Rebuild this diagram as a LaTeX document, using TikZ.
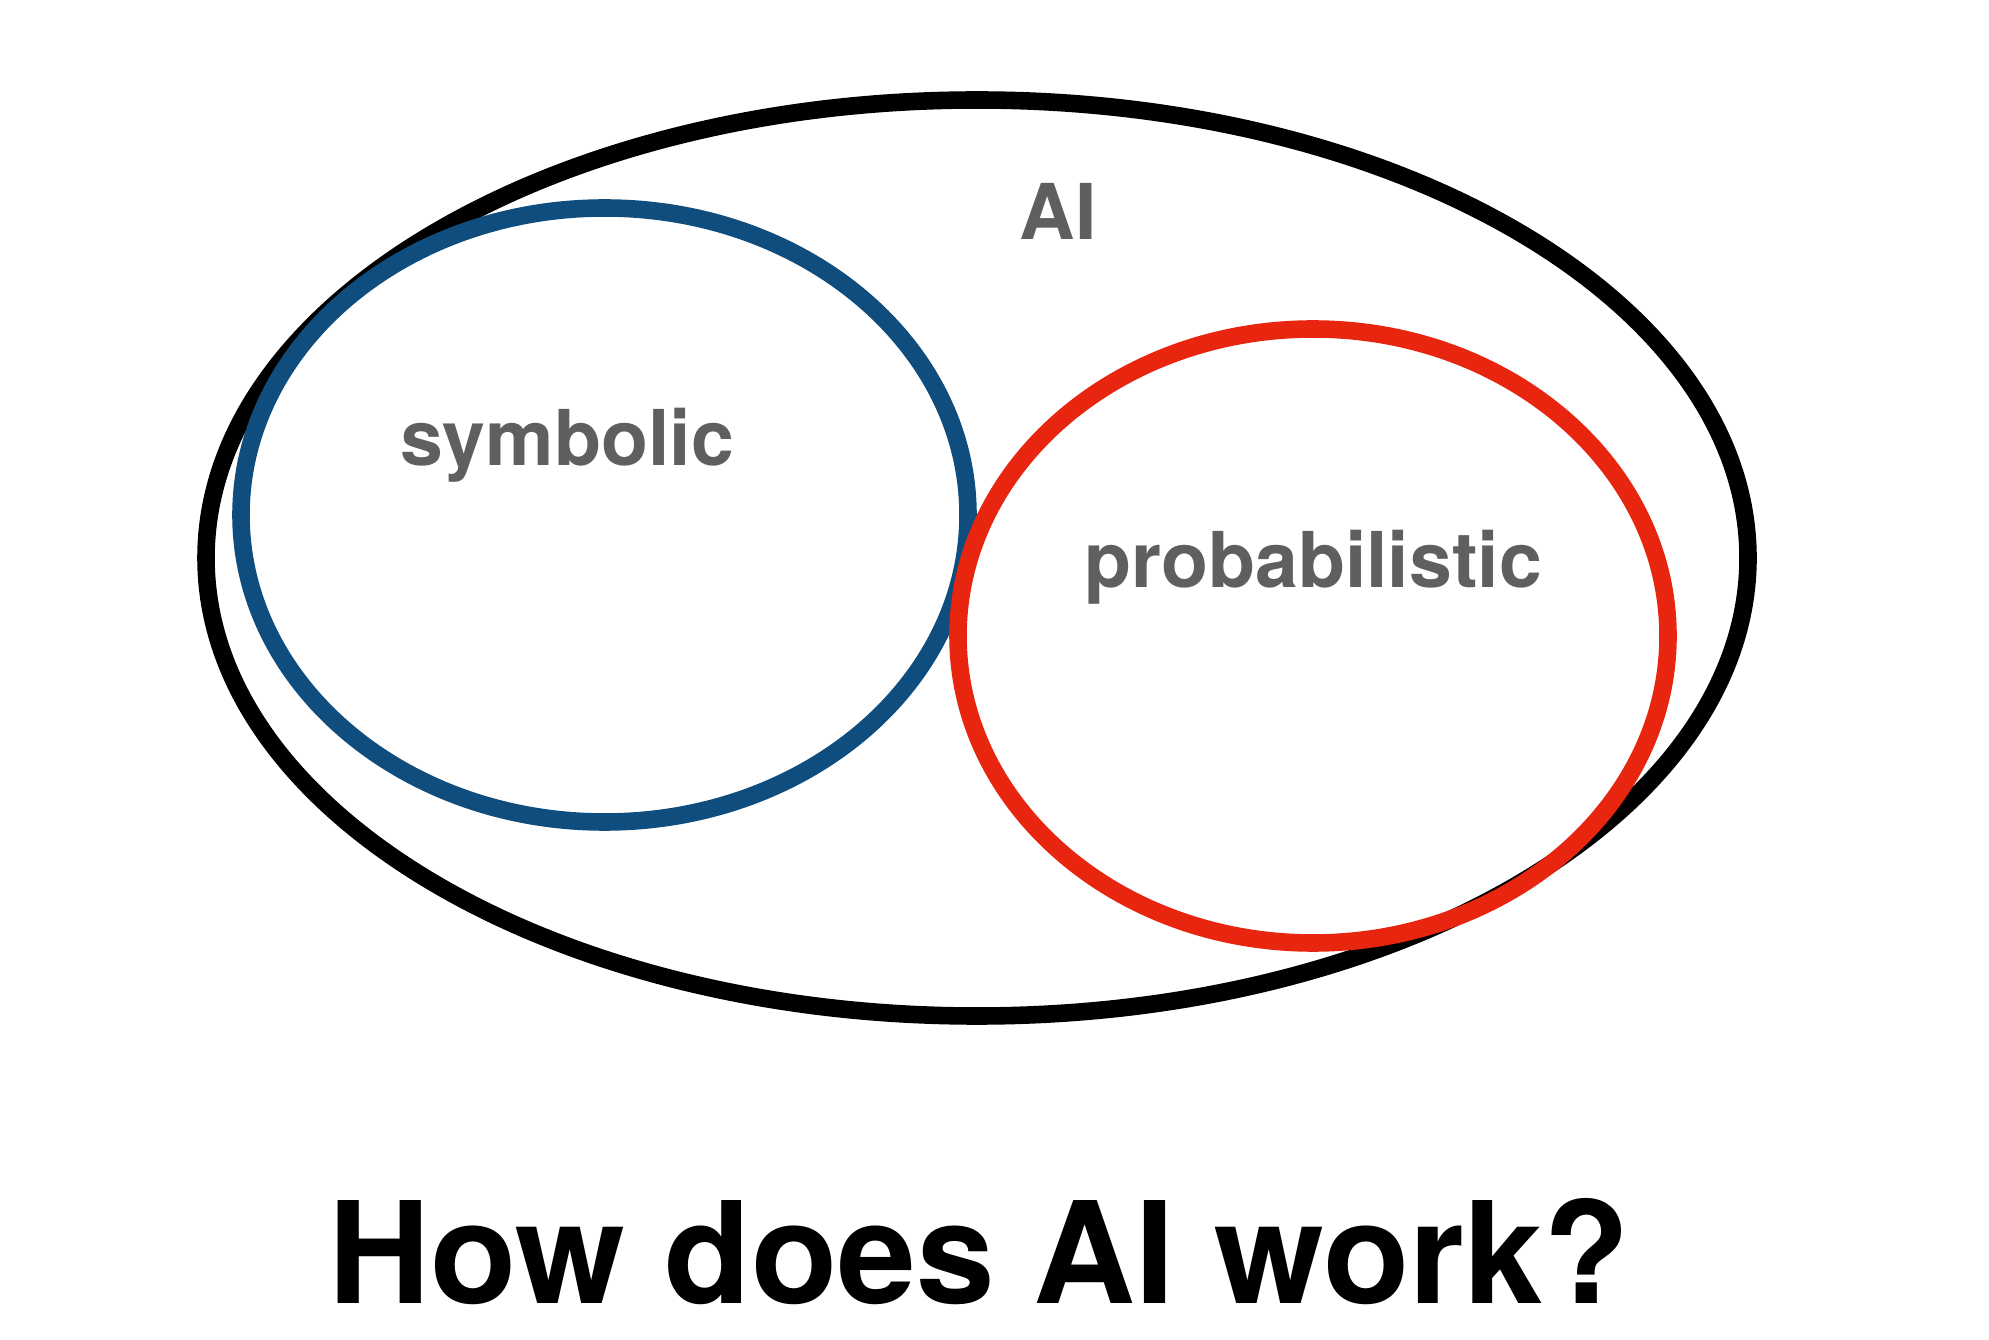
\documentclass[tikz,border=0pt]{standalone}
\usepackage{fontspec}
\setmainfont{TeX Gyre Heros}
\usepackage{xcolor}
\usetikzlibrary{shapes.geometric}
\definecolor{symblue}{RGB}{14,77,125}
\definecolor{probred}{RGB}{232,38,15}
\definecolor{labelgray}{RGB}{95,95,95}
\tikzset{
  region/.style = {
    ellipse,
    draw,
    line width=5pt,
    inner sep=0pt
  },
  setlabel class/.style={
    text=labelgray,
    every text node part/.style={
      align=center,
      font={\fontsize{21.9}{26}\selectfont\bfseries}
    }
  },
  headline class/.style={
    every text node part/.style={
      align=center,
      font={\fontsize{40.2}{48}\selectfont\bfseries}
    }
  },
}

\begin{document}
\begin{tikzpicture}

  \useasboundingbox (0,0) rectangle (19.89,13.39);

  \foreach \setname/\setcolor/\cx/\cy/\rx/\ry in {
    ai/black/9.77/7.81/7.71/4.58,
    sym/symblue/6.045/8.24/3.635/3.07,
    prob/probred/13.13/7.03/3.55/3.07
  } {
    \node[region, draw=\setcolor,
      minimum width={2*\rx cm}, minimum height={2*\ry cm}]
      (\setname) at (\cx,\cy) {};
  }

  \node[setlabel class, anchor=base] (ailabel) at (10.58,10.99) {AI};
  \node[setlabel class, anchor=base] (symlabel) at (5.67,8.73) {symbolic};
  \node[setlabel class, anchor=base] (problabel) at (13.13,7.51) {probabilistic};

  \node[headline class, anchor=base] (headline) at (9.79,0.36) {How does AI work?};

\end{tikzpicture}
\end{document}
